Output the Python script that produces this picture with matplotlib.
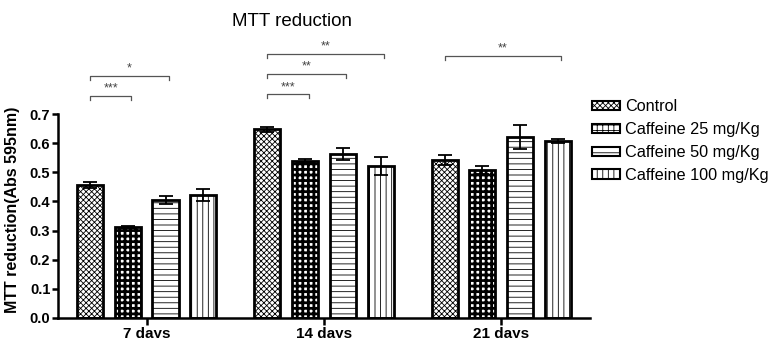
import matplotlib.pyplot as plt
import matplotlib as mpl
from matplotlib.patches import Patch
import numpy as np

plt.rcParams['font.family'] = ['Liberation Sans', 'DejaVu Sans']

groups = ['7 days', '14 days', '21 days']
series = ['Control', 'Caffeine 25 mg/Kg', 'Caffeine 50 mg/Kg', 'Caffeine 100 mg/Kg']

control = [0.456, 0.647, 0.542]
control_err = [0.011, 0.009, 0.016]
caf25 = [0.311, 0.540, 0.507]
caf25_err = [0.003, 0.004, 0.014]
caf50 = [0.404, 0.562, 0.620]
caf50_err = [0.014, 0.021, 0.041]
caf100 = [0.422, 0.522, 0.608]
caf100_err = [0.021, 0.030, 0.007]

values = [control, caf25, caf50, caf100]
errors = [control_err, caf25_err, caf50_err, caf100_err]

# significance brackets: (group, bar a, bar b, height, label)
brackets = [
    (0, 0, 1, 0.762, '***'),
    (0, 0, 2, 0.831, '*'),
    (1, 0, 1, 0.768, '***'),
    (1, 0, 2, 0.837, '**'),
    (1, 0, 3, 0.906, '**'),
    (2, 0, 3, 0.899, '**'),
]

hatches = ['xxxxxx', '+++', '---', '|||']
hatch_lw = [0.6, 2.0, 0.6, 0.6]

fig = plt.figure(figsize=(7.69, 3.38), dpi=100)
ax = fig.add_axes([0.0754, 0.0592, 0.6916, 0.819])

x = np.arange(len(groups))
step = 0.213
width = 0.147

for i in range(len(series)):
    pos = x + (i - 1.5) * step
    mpl.rcParams['hatch.linewidth'] = hatch_lw[i]
    ax.bar(pos, values[i], width, color='white', edgecolor='black',
           hatch=hatches[i], linewidth=0, zorder=2)
    ax.bar(pos, values[i], width, fill=False, edgecolor='black',
           linewidth=2, zorder=3)
    ax.errorbar(pos, values[i], yerr=errors[i], fmt='none', ecolor='black',
                elinewidth=1.3, capsize=5, capthick=1.3, zorder=4)

for g, a, b, h, lab in brackets:
    x0 = g + (a - 1.5) * step
    x1 = g + (b - 1.5) * step + 0.02
    ax.plot([x0, x0, x1, x1], [h - 0.014, h, h, h - 0.014],
            color='#555555', lw=0.9, zorder=5, clip_on=False)
    ax.text((x0 + x1) / 2, h + 0.004, lab, ha='center', va='bottom',
            fontsize=9, color='#444444')

ax.set_xlim(-0.5, 2.5)
ax.set_ylim(0, 0.95)
ax.set_yticks(np.arange(0, 0.71, 0.1))
ax.set_yticklabels([f'{v:.1f}' for v in np.arange(0, 0.71, 0.1)],
                   fontweight='bold', fontsize=10.5)
ax.set_xticks(x)
ax.set_xticklabels(groups, fontweight='bold', fontsize=11)
ax.spines['top'].set_visible(False)
ax.spines['right'].set_visible(False)
ax.spines['left'].set_bounds(0, 0.7)
ax.spines['left'].set_linewidth(1.8)
ax.spines['bottom'].set_linewidth(1.8)
ax.tick_params(axis='y', width=1.8, length=4, direction='out', pad=1.5)
ax.tick_params(axis='x', width=1.8, length=5, direction='out', pad=1.5)

ax.set_ylabel('MTT reduction(Abs 595nm)', fontweight='bold', fontsize=11.5)
ax.yaxis.set_label_coords(-0.072, 0.392)

fig.text(0.38, 0.935, 'MTT reduction', ha='center', va='center', fontsize=13.5)

handles = []
for i in range(len(series)):
    mpl.rcParams['hatch.linewidth'] = hatch_lw[i]
    handles.append(Patch(facecolor='white', edgecolor='black', hatch=hatches[i],
                         linewidth=1.5))
ax.legend(handles, series, loc='upper left', bbox_to_anchor=(0.770, 0.706),
          bbox_transform=fig.transFigure, frameon=False, fontsize=11.7,
          handlelength=1.72, handleheight=0.5, labelspacing=0.48,
          handletextpad=0.3, borderpad=0, borderaxespad=0)

fig.savefig('out.png', dpi=100)
